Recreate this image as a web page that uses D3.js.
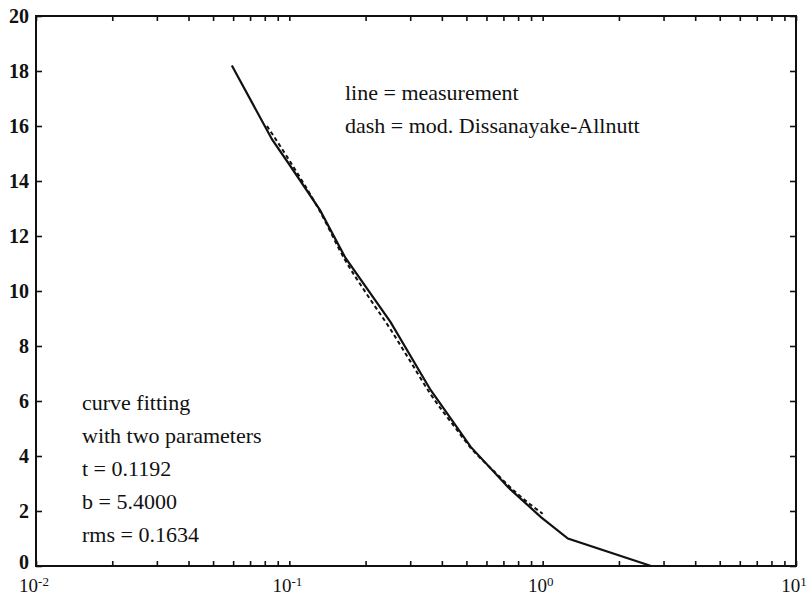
<!DOCTYPE html>
<html>
<head>
<meta charset="utf-8">
<script src="https://cdn.jsdelivr.net/npm/d3@7"></script>
<style>
  body { margin: 0; background: #fff; }
  svg { display: block; }
  text { font-family: "Liberation Serif", "Times New Roman", serif; fill: #111; }
  .axis path.domain { display: none; }
  .axis line { stroke: #111; stroke-width: 1.6; }
  .ylab text { font-size: 20px; font-weight: bold; }
  .note { font-size: 22px; }
</style>
</head>
<body>
<div class="chart"></div>
<script>
// measured attenuation (solid line)
const measX = [0.0593, 0.0856, 0.1, 0.132, 0.1666, 0.251, 0.361, 0.52, 0.729, 0.984, 1.258, 2.68]
const measY = [18.2, 15.5, 14.6, 12.95, 11.2, 8.87, 6.4, 4.33, 2.87, 1.78, 1.0, 0.0]

// modified Dissanayake-Allnutt fit (dashed line)
const modelX = [0.0816, 0.1, 0.132, 0.1666, 0.2, 0.251, 0.3, 0.361, 0.45, 0.52, 0.65, 0.8, 1.0]
const modelY = [16.0, 14.75, 12.9, 11.1, 9.95, 8.6, 7.45, 6.25, 5.05, 4.3, 3.4, 2.6, 1.9]

const yTicks = [0, 2, 4, 6, 8, 10, 12, 14, 16, 18, 20]
const xDecades = [0.01, 0.1, 1, 10]
const xDecadeExp = ["-2", "-1", "0", "1"]

const notesTop = ["line = measurement", "dash = mod. Dissanayake-Allnutt"]
const notesLeft = ["curve fitting", "with two parameters", "t = 0.1192", "b = 5.4000", "rms = 0.1634"]

function drawChart () {
  const width = 808
  const height = 598
  const margin = { top: 16, right: 12, bottom: 32, left: 36 }
  const w = width - margin.left - margin.right
  const h = height - margin.top - margin.bottom

  const svg = d3.select(".chart").append("svg")
    .attr("width", width)
    .attr("height", height)
    .append("g")
    .attr("transform", "translate(" + margin.left + "," + margin.top + ")")

  const x = d3.scaleLog().domain([0.01, 10]).range([0, w])
  const y = d3.scaleLinear().domain([0, 20]).range([h, 0])

  // all log ticks 1..9 per decade
  const minor = x.ticks()

  svg.append("g")
    .attr("class", "axis")
    .attr("transform", "translate(0," + h + ")")
    .call(d3.axisBottom(x).tickValues(minor).tickSizeInner(-5).tickSizeOuter(0).tickFormat(""))

  svg.append("g")
    .attr("class", "axis")
    .call(d3.axisTop(x).tickValues(minor).tickSizeInner(-5).tickSizeOuter(0).tickFormat(""))

  svg.append("g")
    .attr("class", "axis ylab")
    .call(d3.axisLeft(y).tickValues(yTicks).tickSizeInner(-6).tickSizeOuter(0).tickPadding(7))
    .selectAll("text")
    .filter(d => d === 0)
    .attr("dy", "0.1em") // sits a little high, clear of 10^-2

  svg.append("g")
    .attr("class", "axis")
    .attr("transform", "translate(" + w + ",0)")
    .call(d3.axisRight(y).tickValues(yTicks).tickSizeInner(-6).tickSizeOuter(0).tickFormat(""))

  // decade labels with superscripts
  const xl = svg.append("g")
    .selectAll("text")
    .data(xDecades)
    .enter().append("text")
    .attr("x", d => x(d) - 2)
    .attr("y", h + 26)
    .attr("text-anchor", "middle")
    .style("font-size", "19px")
  xl.append("tspan").text("10")
  xl.append("tspan")
    .attr("dy", -6)
    .style("font-size", "13px")
    .text((d, i) => xDecadeExp[i])

  svg.append("rect")
    .attr("width", w)
    .attr("height", h)
    .attr("fill", "none")
    .attr("stroke", "#111")
    .attr("stroke-width", 2)

  const line = d3.line()
    .x(d => x(d[0]))
    .y(d => y(d[1]))

  svg.append("path")
    .datum(modelX.map((v, i) => [v, modelY[i]]))
    .attr("fill", "none")
    .attr("stroke", "#111")
    .attr("stroke-width", 2)
    .attr("stroke-dasharray", "4,3")
    .attr("d", line.curve(d3.curveMonotoneX))

  svg.append("path")
    .datum(measX.map((v, i) => [v, measY[i]]))
    .attr("fill", "none")
    .attr("stroke", "#111")
    .attr("stroke-width", 2.2)
    .attr("d", line.curve(d3.curveLinear))

  svg.append("g")
    .selectAll("text")
    .data(notesTop)
    .enter().append("text")
    .attr("class", "note")
    .attr("x", 309)
    .attr("y", (d, i) => 83.5 + i * 33.5)
    .text(d => d)

  svg.append("g")
    .selectAll("text")
    .data(notesLeft)
    .enter().append("text")
    .attr("class", "note")
    .attr("x", 46)
    .attr("y", (d, i) => 394 + i * 33)
    .text(d => d)
}

drawChart()
</script>
</body>
</html>
